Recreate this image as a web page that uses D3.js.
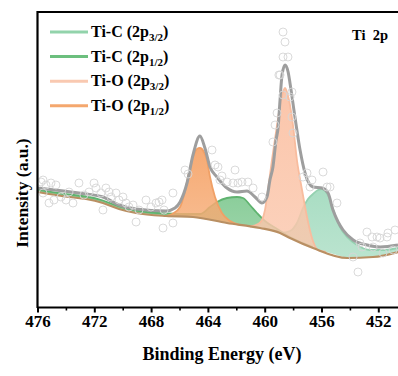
<!DOCTYPE html>
<html><head><meta charset="utf-8">
<script src="https://cdn.jsdelivr.net/npm/d3@7"></script>
<style>body{margin:0;background:#fff}svg{display:block}</style>
</head><body>
<svg id="c" width="398" height="376"></svg>
<script>
// ---------- data (binding energy eV, intensity a.u.) ----------
const xTicksMajor = [476, 472, 468, 464, 460, 456, 452];
const xTicksMinor = [474, 470, 466, 462, 458, 454];
const seriesNames = ["Ti-C (2p3/2)", "Ti-C (2p1/2)", "Ti-O (2p3/2)", "Ti-O (2p1/2)"];

const backgroundE = [476.0, 473.78, 472.58, 471.39, 470.26, 469.06, 466.95, 465.05, 462.66, 460.33, 458.92, 458.22, 456.60, 454.20, 452.37, 450.61];
const backgroundI = [116, 111, 109, 105, 99, 95, 92, 91, 85, 80, 75, 70, 60, 50, 51, 56];

const envelopeE = [476.0, 473.08, 471.39, 470.26, 469.06, 466.95, 466.32, 465.96, 465.47, 465.05, 464.56, 464.21, 463.85, 463.36, 462.66, 461.95, 461.25, 460.68, 460.19, 459.84, 459.63, 459.42, 459.20, 459.06, 458.92, 458.78, 458.57, 458.35, 458.22, 457.87, 457.51, 457.16, 456.60, 455.96, 455.54, 455.19, 454.83, 454.48, 453.77, 452.79, 451.87, 450.61];
const envelopeI = [120, 115, 111, 103, 99, 97, 100, 106, 125, 153, 172, 160, 141, 131, 120, 116, 117, 111, 105, 111, 128, 141, 168, 180, 208, 233, 243, 236, 225, 191, 158, 135, 121, 120, 115, 98, 86, 78, 68, 63, 61, 63];

const tiC32E = [458.92, 458.22, 457.73, 457.30, 456.95, 456.60, 456.25, 455.96, 455.68, 455.40, 455.12, 454.70, 454.20, 453.50, 452.58, 451.53, 450.61];
const tiC32I = [75, 77, 85, 100, 109, 114, 118, 119, 116, 108, 96, 81, 71, 63, 58, 58, 60];

const tiC12E = [476.0, 473.78, 472.58, 471.39, 470.26, 469.06, 466.95, 465.05, 464.56, 463.85, 463.36, 462.66, 461.95, 461.53, 461.04, 460.54, 459.98, 459.13, 458.22, 456.60];
const tiC12I = [118.5, 113.5, 111.5, 107.5, 101.5, 97.5, 94.5, 94, 94, 101, 106, 110, 111, 110, 103, 95, 87, 79, 71, 61];

const tiO32E = [461.04, 460.47, 460.19, 459.98, 459.77, 459.49, 459.13, 458.85, 458.57, 458.29, 458.01, 457.73, 457.37, 457.02, 456.67, 456.25, 455.68];
const tiO32I = [81.5, 84, 88, 98, 118, 148, 183, 208, 220, 208, 183, 148, 118, 91, 70, 58, 56];

const tiO12E = [466.95, 466.51, 465.96, 465.61, 465.40, 465.05, 464.77, 464.56, 464.28, 464.07, 463.85, 463.50, 463.01, 462.44, 461.74];
const tiO12I = [92, 94, 101, 117, 131, 151, 159, 160, 156, 148, 131, 111, 95, 87, 83];

const rawE = [475.75, 475.61, 475.40, 475.61, 475.19, 475.05, 474.84, 474.70, 474.35, 473.99, 473.78, 473.50, 473.08, 472.73, 472.37, 472.02, 471.88, 471.53, 471.39, 471.18, 470.96, 470.82, 470.47, 470.26, 469.98, 469.77, 469.56, 469.27, 469.06, 468.85, 468.36, 468.01, 467.65, 467.44, 467.16, 467.09, 466.46, 466.46, 467.23, 465.61, 465.40,
  463.71, 463.50, 463.29, 463.01, 463.15, 462.65, 462.23, 462.09, 461.88, 461.60, 461.18, 460.82, 460.19, 459.42, 459.27, 459.13, 458.92, 458.71, 458.71, 458.71, 458.57, 458.36, 458.22, 458.08, 458.01, 459.00, 458.08, 457.30, 457.02, 456.81, 456.67, 455.89, 455.61, 455.40, 454.91,
  453.78, 453.43, 453.29, 453.15, 452.80, 452.44, 452.37, 452.09, 451.88, 451.67, 451.39, 451.32, 450.96, 450.82];
const rawI = [126, 128, 123, 115, 105, 125, 108, 123, 111, 108, 116, 105, 125, 113, 116, 125, 120, 115, 98, 120, 116, 111, 115, 108, 111, 105, 101, 103, 86, 98, 108, 101, 105, 106, 80, 98, 85, 115, 108, 138, 134,
  158, 143, 141, 132, 128, 126, 125, 138, 125, 126, 126, 120, 111, 166, 183, 195, 233, 213, 251, 276, 266, 251, 211, 191, 175, 233, 216, 131, 135, 121, 128, 136, 121, 121, 105,
  51, 36, 65, 61, 76, 71, 61, 71, 70, 55, 71, 75, 58, 78];

// ---------- drawing ----------
const svg = d3.select("#c");
const x = d3.scaleLinear().domain([476, 452]).range([37.5, 378.3]);
const y = d3.scaleLinear().domain([0, 296]).range([308, 12]);
const zip = (E, I) => E.map((e, i) => [e, I[i]]);

const defs = svg.append("defs");
defs.append("clipPath").attr("id", "clip").append("rect")
  .attr("x", 37.5).attr("y", 12).attr("width", 400).attr("height", 296);

const bg = zip(backgroundE, backgroundI);
const line = d3.line().x(d => x(d[0])).y(d => y(d[1])).curve(d3.curveMonotoneX);
const lineRev = d3.line().x(d => x(d[0])).y(d => y(d[1])).curve(d3.curveLinear);

function bgAt(e) {
  const pts = bg.slice().sort((a, b) => a[0] - b[0]);
  for (let i = 0; i < pts.length - 1; i++) {
    if (e >= pts[i][0] && e <= pts[i + 1][0]) {
      const t = (e - pts[i][0]) / (pts[i + 1][0] - pts[i][0]);
      return pts[i][1] + t * (pts[i + 1][1] - pts[i][1]);
    }
  }
  return pts[e < pts[0][0] ? 0 : pts.length - 1][1];
}
function areaPath(comp) {
  const hi = comp[0][0], lo = comp[comp.length - 1][0];
  const bottom = [[lo, bgAt(lo)]]
    .concat(bg.filter(d => d[0] < hi && d[0] > lo).sort((a, b) => a[0] - b[0]))
    .concat([[hi, bgAt(hi)]]);
  return line(comp) + lineRev(bottom).replace(/^M/, "L") + "Z";
}

const comps = [
  {name: seriesNames[0], data: zip(tiC32E, tiC32I), fill: "#a9ddc3", stroke: "#94d1b0", leg: "#92d3ab"},
  {name: seriesNames[1], data: zip(tiC12E, tiC12I), fill: "#88cc98", stroke: "#5fb36f", leg: "#6cbf7e"},
  {name: seriesNames[2], data: zip(tiO32E, tiO32I), fill: "#fbc6ab", stroke: "#f8bc9e", leg: "#f9c9b1"},
  {name: seriesNames[3], data: zip(tiO12E, tiO12I), fill: "#f6aa73", stroke: "#f0a066", leg: "#f4a76e"}
];

comps.forEach((c, i) => {
  const g = defs.append("linearGradient").attr("id", "g" + i)
    .attr("x1", 0).attr("y1", 0).attr("x2", 0).attr("y2", 1);
  g.append("stop").attr("offset", "0%").attr("stop-color", c.fill).attr("stop-opacity", 1);
  g.append("stop").attr("offset", "100%").attr("stop-color", c.fill).attr("stop-opacity", 0.8);
});

const plot = svg.append("g").attr("clip-path", "url(#clip)");
comps.forEach((c, i) => {
  plot.append("path").attr("d", areaPath(c.data)).attr("fill", "url(#g" + i + ")").attr("stroke", "none");
  plot.append("path").attr("d", line(c.data)).attr("fill", "none")
    .attr("stroke", c.stroke).attr("stroke-width", 1.8);
});
plot.append("path").attr("d", line(bg)).attr("fill", "none")
  .attr("stroke", "#b98f63").attr("stroke-width", 2.2);
plot.append("path").attr("d", line(zip(envelopeE, envelopeI).sort((a,b)=>b[0]-a[0])))
  .attr("fill", "none").attr("stroke", "#9e9e9e").attr("stroke-width", 3).attr("stroke-linejoin", "round");
plot.selectAll("circle.raw").data(zip(rawE, rawI)).join("circle").attr("class", "raw")
  .attr("cx", d => x(d[0])).attr("cy", d => y(d[1])).attr("r", 4)
  .attr("fill", "none").attr("stroke", "#d6d6d6").attr("stroke-width", 0.9);

// frame
svg.append("line").attr("x1", 37.5).attr("x2", 398).attr("y1", 12).attr("y2", 12)
  .attr("stroke", "#000").attr("stroke-width", 2.2);
svg.append("line").attr("x1", 37.5).attr("x2", 37.5).attr("y1", 11).attr("y2", 308)
  .attr("stroke", "#000").attr("stroke-width", 2.2);

// x axis
const font = "'Liberation Serif', 'Times New Roman', serif";
const ax = svg.append("g").attr("transform", "translate(0,307.5)")
  .call(d3.axisBottom(x).tickValues(xTicksMajor).tickSize(5).tickPadding(2).tickFormat(d3.format("d")));
ax.select(".domain").attr("d", "M37.5,0H398").attr("stroke-width", 2.2);
ax.selectAll(".tick line").attr("stroke-width", 2);
ax.selectAll(".tick text").attr("font-family", font).attr("font-weight", "bold")
  .attr("font-size", 17).attr("fill", "#000");
const axm = svg.append("g").attr("transform", "translate(0,307.5)")
  .call(d3.axisBottom(x).tickValues(xTicksMinor).tickSize(3).tickFormat(""));
axm.select(".domain").remove();
axm.selectAll(".tick line").attr("stroke-width", 1.6);

svg.append("text").attr("x", 222).attr("y", 360).attr("text-anchor", "middle")
  .attr("font-family", font).attr("font-weight", "bold").attr("font-size", 18)
  .text("Binding Energy (eV)");
svg.append("text").attr("transform", "translate(28,193) rotate(-90)").attr("text-anchor", "middle")
  .attr("font-family", font).attr("font-weight", "bold").attr("font-size", 17.5)
  .text("Intensity (a.u.)");

svg.append("text").attr("x", 352).attr("y", 40).attr("font-family", font)
  .attr("font-weight", "bold").attr("font-size", 14.5).attr("xml:space", "preserve").text("Ti  2p");

// legend
const leg = svg.append("g");
comps.forEach((c, i) => {
  const yy = 32 + i * 24.6;
  leg.append("line").attr("x1", 50).attr("x2", 88).attr("y1", yy).attr("y2", yy)
    .attr("stroke", c.leg).attr("stroke-width", 3);
  const m = c.name.match(/^(.*\(2p)(\d\/\d)\)$/);
  const t = leg.append("text").attr("x", 91).attr("y", yy + 5).attr("font-family", font)
    .attr("font-weight", "bold").attr("font-size", 16);
  t.append("tspan").text(m[1]);
  t.append("tspan").attr("font-size", 11).attr("dy", 4).text(m[2]);
  t.append("tspan").attr("dy", -4).text(")");
});
</script>
</body></html>
